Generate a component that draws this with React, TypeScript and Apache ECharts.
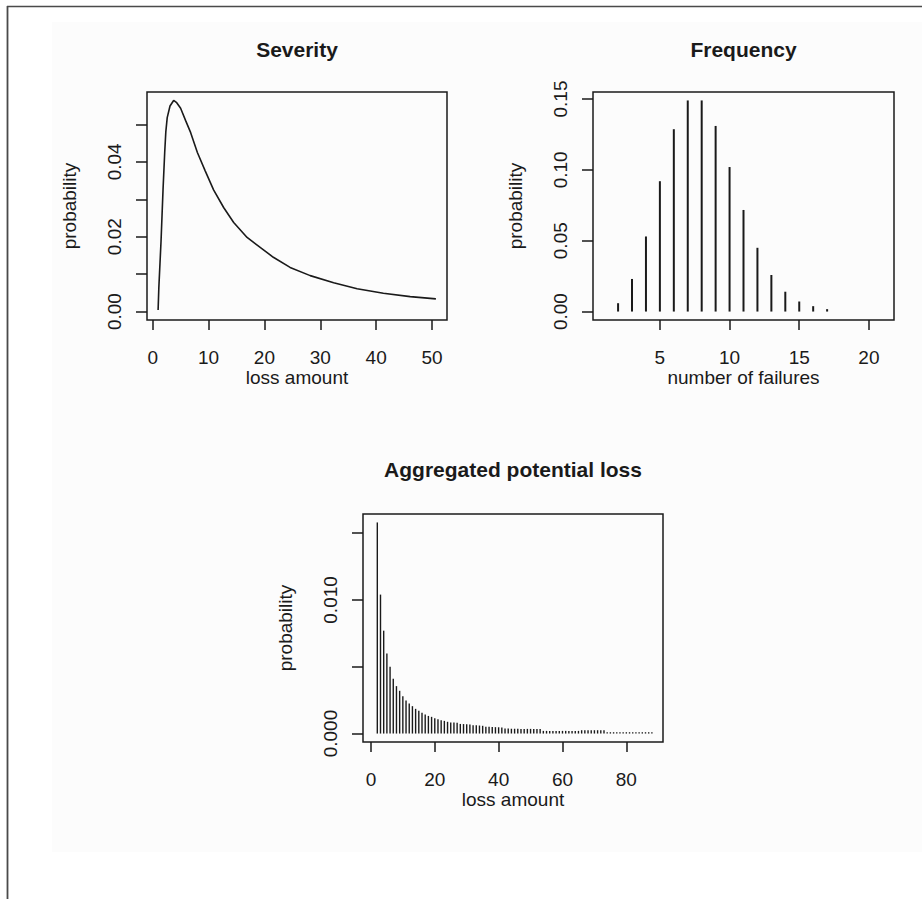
import React, { useEffect, useRef } from "react";
import * as echarts from "echarts";

// ---------- Data ----------
// Severity density curve (loss amount, probability)
const severityX = [0.97, 1.1, 1.5, 1.85, 2.15, 2.35, 2.6, 3.1, 3.75, 4.3, 5.0, 5.9, 6.8, 8.0, 9.4, 10.9, 12.7, 14.5, 16.9, 19.3, 21.6, 24.6, 28.2, 32.4, 36.6, 41.3, 46.1, 50.7];
const severityY = [0.0004, 0.0064, 0.019, 0.0325, 0.0425, 0.048, 0.0518, 0.0549, 0.0564, 0.0558, 0.0543, 0.051, 0.0478, 0.0425, 0.0376, 0.0325, 0.0278, 0.0238, 0.0198, 0.0171, 0.0145, 0.0118, 0.0096, 0.0077, 0.0061, 0.0049, 0.004, 0.0034];

// Frequency (number of failures, probability)
const frequencyX = [1, 2, 3, 4, 5, 6, 7, 8, 9, 10, 11, 12, 13, 14, 15, 16, 17, 18, 19, 20, 21];
const frequencyY = [0, 0.0059, 0.023, 0.053, 0.092, 0.1287, 0.149, 0.149, 0.131, 0.102, 0.0717, 0.045, 0.0258, 0.014, 0.0071, 0.0038, 0.0017, 0, 0, 0, 0];

// Aggregated potential loss (loss amount 1..88, probability)
const aggregatedY = [
  0, 0.0158, 0.0104, 0.0077, 0.006, 0.005, 0.0041, 0.00355, 0.0032, 0.0028,
  0.00247, 0.00225, 0.00205, 0.00185, 0.0017, 0.00155, 0.00142, 0.00132, 0.00125, 0.00114,
  0.00107, 0.001, 0.00095, 0.00088, 0.00083, 0.00082, 0.0008, 0.00072, 0.00071, 0.0007,
  0.00068, 0.00063, 0.00062, 0.0006, 0.00058, 0.0005, 0.0005, 0.00049, 0.00048, 0.00047,
  0.00046, 0.00037, 0.00037, 0.00036, 0.00036, 0.00036, 0.00035, 0.00035, 0.00035, 0.00035,
  0.00035, 0.00035, 0.00034, 0.0002, 0.0002, 0.0002, 0.0002, 0.0002, 0.0002, 0.0002,
  0.0002, 0.0002, 0.0002, 0.0002, 0.0002, 0.00025, 0.00025, 0.00025, 0.00025, 0.00025,
  0.00025, 0.00025, 0.00025, 0.0001, 0.0001, 0.0001, 0.0001, 0.0001, 0.0001, 0.0001,
  0.0001, 0.0001, 0.0001, 0.0001, 0.0001, 0.0001, 0.0001, 0.0001,
];
const aggregatedX = aggregatedY.map((_, i) => i + 1);

// Tick positions and labels
const sevXTicks = [0, 10, 20, 30, 40, 50];
const sevYTicks = [0, 0.01, 0.02, 0.03, 0.04, 0.05];
const sevYLabels = [0, 0.02, 0.04];
const freqXTicks = [5, 10, 15, 20];
const freqYTicks = [0, 0.05, 0.1, 0.15];
const aggXTicks = [0, 20, 40, 60, 80];
const aggYTicks = [0, 0.005, 0.01, 0.015];
const aggYLabels = [0, 0.01];

const titles = ["Severity", "Frequency", "Aggregated potential loss"];

// R-style axis extent: data range expanded by 4% on both sides
function rRange(values: number[]): [number, number] {
  const lo = Math.min(...values);
  const hi = Math.max(...values);
  const d = (hi - lo) * 0.04;
  return [lo - d, hi + d];
}

const FONT = '"Liberation Sans", Arial, Helvetica, sans-serif';
const INK = "#1a1a1a";

function xAxisFor(gridIndex: number, values: number[], ticks: number[], name: string, decimals: number) {
  const [min, max] = rRange(values);
  return {
    type: "value",
    gridIndex,
    min,
    max,
    name,
    nameLocation: "middle",
    nameGap: 48,
    nameTextStyle: { fontFamily: FONT, fontSize: 19, color: INK },
    axisLine: { show: false, onZero: false },
    splitLine: { show: false },
    axisTick: { show: true, inside: false, length: 10, customValues: ticks, lineStyle: { color: INK, width: 1.5 } },
    axisLabel: {
      customValues: ticks,
      margin: 28,
      fontFamily: FONT,
      fontSize: 19,
      color: INK,
      formatter: (v: number) => v.toFixed(decimals),
    },
  };
}

function yAxisFor(gridIndex: number, values: number[], ticks: number[], labels: number[], decimals: number) {
  const [min, max] = rRange(values);
  return {
    type: "value",
    gridIndex,
    min,
    max,
    name: "probability",
    nameLocation: "middle",
    nameGap: 68,
    nameTextStyle: { fontFamily: FONT, fontSize: 19, color: INK },
    axisLine: { show: false, onZero: false },
    splitLine: { show: false },
    axisTick: { show: true, inside: false, length: 11, customValues: ticks, lineStyle: { color: INK, width: 1.5 } },
    axisLabel: {
      customValues: labels,
      rotate: 90,
      margin: 23,
      fontFamily: FONT,
      fontSize: 19,
      color: INK,
      formatter: (v: number) => v.toFixed(decimals),
    },
  };
}

export default function App() {
  const ref = useRef<HTMLDivElement>(null);

  useEffect(() => {
    if (!ref.current) return;
    const chart = echarts.init(ref.current, null, { renderer: "svg" });

    const boxStyle = { show: true, borderColor: INK, borderWidth: 1.5, backgroundColor: "transparent" };

    chart.setOption({
      animation: false,
      backgroundColor: "#ffffff",
      grid: [
        { left: 147, top: 92, width: 300, height: 228, ...boxStyle },
        { left: 593, top: 92, width: 301, height: 228, ...boxStyle },
        { left: 363, top: 514, width: 300, height: 228, ...boxStyle },
      ],
      xAxis: [
        xAxisFor(0, severityX, sevXTicks, "loss amount", 0),
        xAxisFor(1, frequencyX, freqXTicks, "number of failures", 0),
        xAxisFor(2, aggregatedX, aggXTicks, "loss amount", 0),
      ],
      yAxis: [
        yAxisFor(0, [0, ...severityY], sevYTicks, sevYLabels, 2),
        yAxisFor(1, [0, ...frequencyY], freqYTicks, freqYTicks, 2),
        yAxisFor(2, [0, ...aggregatedY], aggYTicks, aggYLabels, 3),
      ],
      series: [
        {
          type: "line",
          xAxisIndex: 0,
          yAxisIndex: 0,
          data: severityX.map((x, i) => [x, severityY[i]]),
          showSymbol: false,
          symbol: "none",
          lineStyle: { color: INK, width: 1.6 },
          z: 3,
        },
        {
          type: "bar",
          xAxisIndex: 1,
          yAxisIndex: 1,
          data: frequencyX.map((x, i) => [x, frequencyY[i]]),
          barWidth: 2,
          itemStyle: { color: INK },
          z: 3,
        },
        {
          type: "bar",
          xAxisIndex: 2,
          yAxisIndex: 2,
          data: aggregatedX.map((x, i) => [x, aggregatedY[i]]),
          barWidth: 1.4,
          itemStyle: { color: INK },
          z: 3,
        },
      ],
      graphic: [
        {
          type: "rect",
          z: -10,
          silent: true,
          shape: { x: 52, y: 22, width: 870, height: 830 },
          style: { fill: "#fcfcfc" },
        },
        {
          type: "line",
          silent: true,
          shape: { x1: 7, y1: 6.5, x2: 922, y2: 6.5 },
          style: { stroke: "#4a4a4a", lineWidth: 1.5 },
        },
        {
          type: "line",
          silent: true,
          shape: { x1: 7.5, y1: 6, x2: 7.5, y2: 899 },
          style: { stroke: "#4a4a4a", lineWidth: 1.8 },
        },
        {
          type: "text",
          x: 297,
          y: 49,
          style: { text: titles[0], font: `bold 21px ${FONT}`, fill: INK, textAlign: "center", textVerticalAlign: "middle" },
        },
        {
          type: "text",
          x: 743.5,
          y: 49,
          style: { text: titles[1], font: `bold 21px ${FONT}`, fill: INK, textAlign: "center", textVerticalAlign: "middle" },
        },
        {
          type: "text",
          x: 513,
          y: 469,
          style: { text: titles[2], font: `bold 21px ${FONT}`, fill: INK, textAlign: "center", textVerticalAlign: "middle" },
        },
      ],
    });

    return () => chart.dispose();
  }, []);

  return (
    <div
      ref={ref}
      style={{ position: "absolute", left: 0, top: 0, width: 922, height: 899 }}
    />
  );
}
